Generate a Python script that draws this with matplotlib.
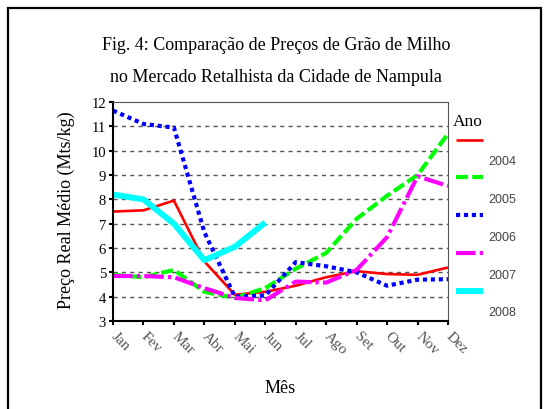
import matplotlib
matplotlib.use("Agg")
import matplotlib.pyplot as plt
from matplotlib.lines import Line2D
from matplotlib.patches import Rectangle

months = ['Jan', 'Fev', 'Mar', 'Abr', 'Mai', 'Jun', 'Jul', 'Ago', 'Set', 'Out', 'Nov', 'Dez']
years = ['2004', '2005', '2006', '2007', '2008']

p2004 = [7.5, 7.55, 7.95, 5.45, 4.08, 4.2, 4.45, 4.8, 5.05, 4.93, 4.9, 5.2]
p2005 = [4.9, 4.8, 5.1, 4.2, 3.95, 4.35, 5.15, 5.8, 7.2, 8.15, 9.0, 10.7]
p2006 = [11.65, 11.1, 10.95, 6.65, 4.0, 4.05, 5.42, 5.25, 5.0, 4.45, 4.7, 4.72]
p2007 = [4.85, 4.85, 4.8, 4.35, 3.95, 3.85, 4.62, 4.58, 5.1, 6.45, 8.95, 8.55]
p2008 = [8.2, 8.0, 7.0, 5.5, 6.05, 7.05]

series = [p2004, p2005, p2006, p2007, p2008]
colors = ['#ff0000', '#00ff00', '#0000ff', '#ff00ff', '#00ffff']
styles = [
    dict(linestyle='-', linewidth=1.9),
    dict(linestyle=(0, (2.9, 1.0)), linewidth=3.0),
    dict(linestyle=(0, (1.0, 0.9)), linewidth=3.0),
    dict(linestyle=(0, (4.7, 1.0, 0.8, 1.0)), linewidth=3.0),
    dict(linestyle='-', linewidth=4.3),
]

serif = 'Liberation Serif'

fig = plt.figure(figsize=(5.46, 4.10), dpi=100)
ax = fig.add_axes([0.207, 0.2146, 0.6135, 0.534])

for vals, c, st in zip(series, colors, styles):
    ax.plot(range(len(vals)), vals, color=c, solid_capstyle='butt',
            dash_capstyle='butt', **st)

ax.set_xlim(0, 11)
ax.set_ylim(3, 12)
ax.set_yticks(range(3, 13))
ax.set_xticks(range(12))
ax.set_xticklabels(months, rotation=-45, ha='left', va='center',
                   rotation_mode='anchor', color='#555555',
                   fontsize=11, family=serif)
for lab in ax.get_yticklabels():
    lab.set_family(serif)
    lab.set_fontsize(10.5)

for yv in range(4, 12):
    ax.axhline(yv, color='#555555', linewidth=1.0, linestyle=(0, (3, 3)),
               zorder=0)

ax.tick_params(axis='both', direction='out', length=3, width=1.5, pad=2)
ax.tick_params(axis='x', pad=6)
ax.spines['left'].set_linewidth(1.5)
ax.spines['bottom'].set_linewidth(1.5)
ax.spines['top'].set_color('#555555')
ax.spines['right'].set_color('#555555')

ax.set_ylabel('Preço Real Médio (Mts/kg)', family=serif, fontsize=13)
ax.yaxis.set_label_coords(-0.113, 0.51)
fig.text(0.513, 1 - 389 / 410, 'Mês', family=serif, fontsize=13,
         ha='center', va='center')

fig.text(0.5055, 1 - 45 / 410, 'Fig. 4: Comparação de Preços de Grão de Milho',
         family=serif, fontsize=13, ha='center', va='center')
fig.text(0.5055, 1 - 78 / 410, 'no Mercado Retalhista da Cidade de Nampula',
         family=serif, fontsize=13, ha='center', va='center')

# legend drawn by hand to keep the original layout
fig.text(453 / 546, 1 - 122 / 410, 'Ano', family=serif, fontsize=12.5,
         ha='left', va='center')
line_y = [141, 178, 216, 254, 292]
label_y = [162, 200, 238, 276, 313]
for yr, c, st, ly, ty in zip(years, colors, styles, line_y, label_y):
    fig.add_artist(Line2D([456 / 546, 483 / 546], [1 - ly / 410, 1 - ly / 410],
                          color=c, solid_capstyle='butt', dash_capstyle='butt',
                          **st))
    fig.text(488 / 546, 1 - ty / 410, yr, family='Liberation Sans', fontsize=9,
             color='#444444', ha='left', va='center')

fig.add_artist(Rectangle((8 / 546, -0.05), 533 / 546, 1 - 9 / 410 + 0.05,
                         fill=False, edgecolor='black', linewidth=1.6,
                         transform=fig.transFigure))

fig.savefig('out.png', dpi=100)
